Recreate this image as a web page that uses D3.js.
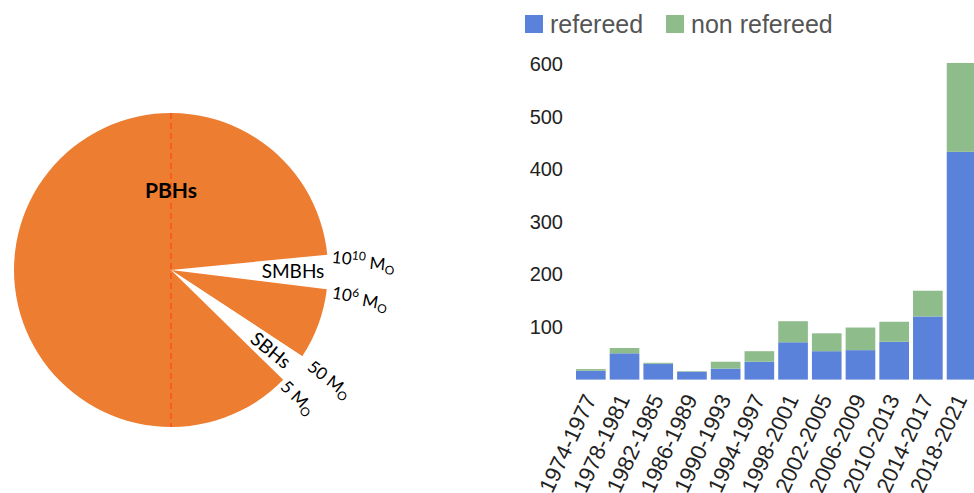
<!DOCTYPE html>
<html>
<head>
<meta charset="utf-8">
<script src="https://cdn.jsdelivr.net/npm/d3@7"></script>
<style>
  body { margin: 0; background: #fff; }
</style>
</head>
<body>
<div id="chart"></div>
<script>
// pie: angular spans (degrees), clockwise, starting at the SMBHs gap
const pieNames = ["SMBHs", "PBHs", "SBHs", "PBHs"];
const pieSpans = [12.6, 26.3, 11.1, 310.0];
const pieStart = 84.4;
// mass labels at the wedge edges
const massBase = ["10", "10", "50", "5"];
const massSup = ["10", "6", "", ""];
const massAngles = [84.4, 97.0, 123.3, 134.4];

// bars
const periods = ["1974-1977", "1978-1981", "1982-1985", "1986-1989", "1990-1993", "1994-1997",
  "1998-2001", "2002-2005", "2006-2009", "2010-2013", "2014-2017", "2018-2021"];
const refereed = [17, 50, 30, 15, 21, 34, 71, 54, 56, 72, 120, 433];
const nonRefereed = [3, 10, 2, 1, 13, 20, 40, 34, 43, 38, 49, 169];
const yTicks = [100, 200, 300, 400, 500, 600];
const seriesNames = ["refereed", "non refereed"];

const W = 974, H = 493;
const svg = d3.select("#chart").append("svg")
    .attr("width", W)
    .attr("height", H);

// ---------- pie ----------
const cx = 171, cy = 270, R = 157;
const pieFont = "Lato, 'Open Sans', sans-serif";
const rad = d => d * Math.PI / 180;

const pie = d3.pie()
    .sort(null)
    .value(d => d)
    .startAngle(rad(pieStart))
    .endAngle(rad(pieStart + 360));
const arc = d3.arc().innerRadius(0).outerRadius(R);

const pieG = svg.append("g").attr("transform", `translate(${cx},${cy})`);

pieG.selectAll("path")
    .data(pie(pieSpans))
    .enter().append("path")
    .attr("d", arc)
    .attr("fill", (d, i) => pieNames[i] === "PBHs" ? "#ED7D31" : "#ffffff");

// dashed vertical line
pieG.append("line")
    .attr("x1", 0).attr("x2", 0)
    .attr("y1", -R).attr("y2", R)
    .attr("stroke", "#FF4A14")
    .attr("stroke-width", 1.3)
    .attr("stroke-dasharray", "6,4");

pieG.append("text")
    .attr("x", 0)
    .attr("y", -72)
    .attr("text-anchor", "middle")
    .style("font-family", pieFont)
    .style("font-size", "21px")
    .style("font-weight", "bold")
    .text("PBHs");

// gap labels
const arcs = pie(pieSpans);
const smb = arcs[0], sb = arcs[2];
const midA = a => (a.startAngle + a.endAngle) / 2;

pieG.append("text")
    .attr("transform", () => {
        const a = midA(smb), r = 122;
        return `translate(${r * Math.sin(a)},${-r * Math.cos(a)})`;
    })
    .attr("text-anchor", "middle")
    .attr("dy", "0.35em")
    .style("font-family", pieFont)
    .style("font-size", "19px")
    .text("SMBHs");

pieG.append("text")
    .attr("transform", () => {
        const a = midA(sb), r = 128;
        const deg = a * 180 / Math.PI - 90;
        return `translate(${r * Math.sin(a)},${-r * Math.cos(a)}) rotate(${deg})`;
    })
    .attr("text-anchor", "middle")
    .attr("dy", "0.35em")
    .style("font-family", pieFont)
    .style("font-size", "19px")
    .text("SBHs");

// mass labels
const massRot = [6, 10, 38, 44];
const massR = [162, 163, 168, 160];
const massG = pieG.selectAll(".mass")
    .data(massBase)
    .enter().append("text")
    .attr("class", "mass")
    .attr("transform", (d, i) => {
        const a = rad(massAngles[i]), r = massR[i];
        return `translate(${r * Math.sin(a)},${-r * Math.cos(a)}) rotate(${massRot[i]})`;
    })
    .attr("dy", "0.5em")
    .style("font-family", pieFont)
    .style("font-size", "17px");

massG.each(function(d, i) {
    const t = d3.select(this);
    t.append("tspan").text(d);
    if (massSup[i]) {
        t.append("tspan")
            .attr("dy", "-0.45em")
            .style("font-size", "12px")
            .text(massSup[i]);
        t.append("tspan").attr("dy", "0.45em").text(" M");
    } else {
        t.append("tspan").text(" M");
    }
    t.append("tspan")
        .attr("dy", "0.3em")
        .style("font-size", "12px")
        .text("O");
});

// ---------- stacked bars ----------
const barFont = "'Liberation Sans', Arial, sans-serif";
const table = periods.map((p, i) => ({ period: p, refereed: refereed[i], nonRefereed: nonRefereed[i] }));
const stacked = d3.stack().keys(["refereed", "nonRefereed"])(table);

const x = d3.scaleBand()
    .domain(periods)
    .range([576, 976.4])
    .paddingInner(0.12)
    .paddingOuter(0);

const y = d3.scaleLinear()
    .domain([0, 600])
    .range([379.6, 64]);

const color = d3.scaleOrdinal()
    .domain(["refereed", "nonRefereed"])
    .range(["#5B82DA", "#8FBC8B"]);

svg.selectAll(".series")
    .data(stacked)
    .enter().append("g")
    .attr("class", "series")
    .attr("fill", d => color(d.key))
    .selectAll("rect")
    .data(d => d)
    .enter().append("rect")
    .attr("x", d => x(d.data.period))
    .attr("y", d => y(d[1]))
    .attr("height", d => y(d[0]) - y(d[1]))
    .attr("width", x.bandwidth());

// y axis
const yAxis = svg.append("g")
    .attr("transform", "translate(566,0)")
    .call(d3.axisLeft(y).tickValues(yTicks).tickSize(0).tickPadding(3));
yAxis.select(".domain").remove();
yAxis.selectAll("text")
    .style("font-family", barFont)
    .style("font-size", "20px")
    .attr("fill", "#222");

// x labels
svg.append("g")
    .selectAll("text")
    .data(periods)
    .enter().append("text")
    .attr("transform", d => `translate(${x(d) + x.bandwidth() / 2 + 6},${399}) rotate(-65)`)
    .attr("text-anchor", "end")
    .style("font-family", barFont)
    .style("font-size", "22px")
    .attr("fill", "#222")
    .text(d => d);

// legend
const legendX = [525, 666];
const legend = svg.append("g");
legend.selectAll("rect")
    .data(color.domain())
    .enter().append("rect")
    .attr("x", (d, i) => legendX[i])
    .attr("y", 15)
    .attr("width", 18)
    .attr("height", 18)
    .attr("fill", color);
legend.selectAll("text")
    .data(seriesNames)
    .enter().append("text")
    .attr("x", (d, i) => legendX[i] + 25)
    .attr("y", 33)
    .style("font-family", barFont)
    .style("font-size", "25px")
    .attr("fill", "#555")
    .text(d => d);
</script>
</body>
</html>
